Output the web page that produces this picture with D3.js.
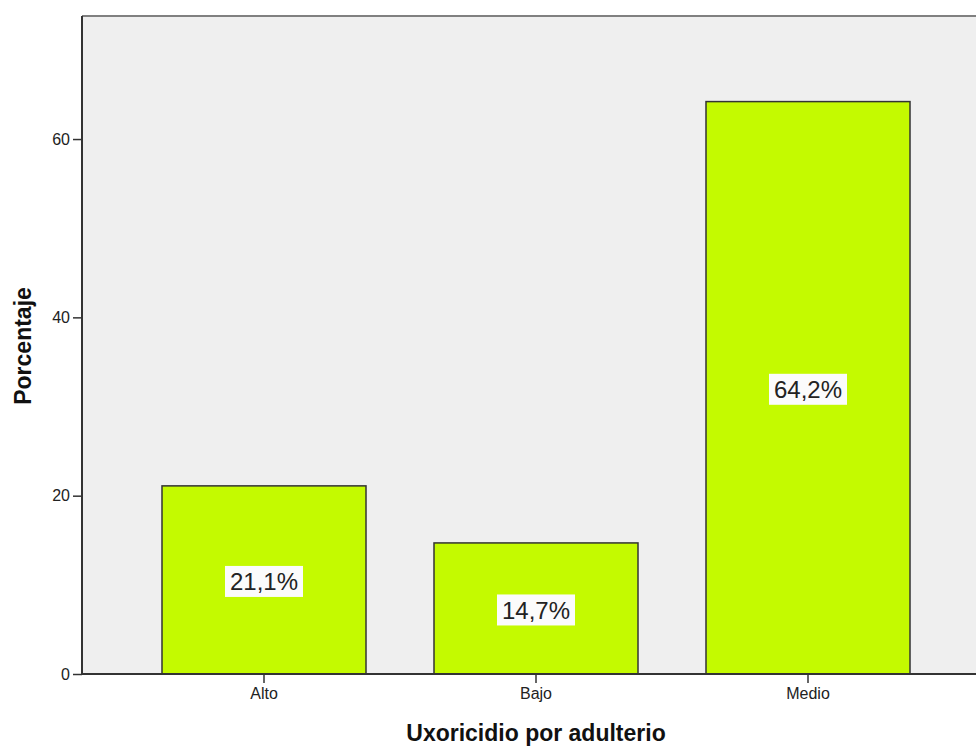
<!DOCTYPE html>
<html>
<head>
<meta charset="utf-8">
<script src="https://cdn.jsdelivr.net/npm/d3@7"></script>
<style>
  html, body { margin: 0; padding: 0; background: #ffffff; }
  svg { display: block; font-family: "Liberation Sans", Arial, sans-serif; }
</style>
</head>
<body>
<svg id="chart" width="976" height="750"></svg>
<script>
const categories = ["Alto", "Bajo", "Medio"];
const values = [21.1, 14.7, 64.2];
const valueLabels = ["21,1%", "14,7%", "64,2%"];
const yTicks = [0, 20, 40, 60];
const xTitle = "Uxoricidio por adulterio";
const yTitle = "Porcentaje";

const svg = d3.select("#chart");
const plot = { left: 82, top: 16, right: 990, bottom: 674 };

const x = d3.scaleBand()
  .domain(categories)
  .range([128, 944])
  .paddingInner(0.25)
  .paddingOuter(0.125);

const y = d3.scaleLinear()
  .domain([0, 73.8])
  .range([plot.bottom, plot.top]);

// plot background
svg.append("rect")
  .attr("x", plot.left).attr("y", plot.top)
  .attr("width", plot.right - plot.left)
  .attr("height", plot.bottom - plot.top)
  .attr("fill", "#efefef");

// top frame
svg.append("line")
  .attr("x1", plot.left).attr("x2", plot.right)
  .attr("y1", plot.top).attr("y2", plot.top)
  .attr("stroke", "#808080").attr("stroke-width", 2);

// bars
svg.append("g").selectAll("rect")
  .data(categories)
  .join("rect")
  .attr("x", d => x(d))
  .attr("y", (d, i) => y(values[i]))
  .attr("width", x.bandwidth())
  .attr("height", (d, i) => y(0) - y(values[i]))
  .attr("fill", "#c4fa00")
  .attr("stroke", "#333333")
  .attr("stroke-width", 1.5);

// value labels
const lab = svg.append("g").selectAll("g")
  .data(categories)
  .join("g")
  .attr("transform", (d, i) => `translate(${x(d) + x.bandwidth() / 2},${(y(values[i]) + y(0)) / 2 + 2})`);
lab.append("rect")
  .attr("x", -39).attr("y", -16)
  .attr("width", 78).attr("height", 31)
  .attr("fill", "#fbfbfb");
lab.append("text")
  .attr("text-anchor", "middle")
  .attr("dy", "0.35em")
  .attr("font-size", 24)
  .attr("fill", "#222")
  .text((d, i) => valueLabels[i]);

// y axis
const yAxis = svg.append("g")
  .attr("transform", `translate(${plot.left},0)`)
  .call(d3.axisLeft(y).tickValues(yTicks).tickSize(9).tickPadding(3).tickFormat(d3.format("d")));
yAxis.select(".domain").attr("stroke", "#333").attr("stroke-width", 2)
  .attr("d", `M0,${plot.top}V${plot.bottom}`);
yAxis.selectAll(".tick line").attr("stroke", "#333").attr("stroke-width", 1.5);
yAxis.selectAll(".tick text").attr("font-size", 16).attr("fill", "#222")
  .attr("font-family", "Liberation Sans, Arial, sans-serif");

// x axis
const xAxis = svg.append("g")
  .attr("transform", `translate(0,${plot.bottom})`)
  .call(d3.axisBottom(x).tickSize(9).tickPadding(5));
xAxis.select(".domain").attr("stroke", "#333").attr("stroke-width", 2)
  .attr("d", `M${plot.left},0H${plot.right}`);
xAxis.selectAll(".tick line").attr("stroke", "#333").attr("stroke-width", 1.5);
xAxis.selectAll(".tick text").attr("font-size", 16).attr("fill", "#222")
  .attr("font-family", "Liberation Sans, Arial, sans-serif");

// axis titles
svg.append("text")
  .attr("x", (plot.left + plot.right) / 2)
  .attr("y", 741)
  .attr("text-anchor", "middle")
  .attr("font-size", 23)
  .attr("font-weight", "bold")
  .attr("fill", "#111")
  .text(xTitle);

svg.append("text")
  .attr("transform", "translate(31,346) rotate(-90)")
  .attr("text-anchor", "middle")
  .attr("font-size", 23)
  .attr("font-weight", "bold")
  .attr("fill", "#111")
  .text(yTitle);
</script>
</body>
</html>
